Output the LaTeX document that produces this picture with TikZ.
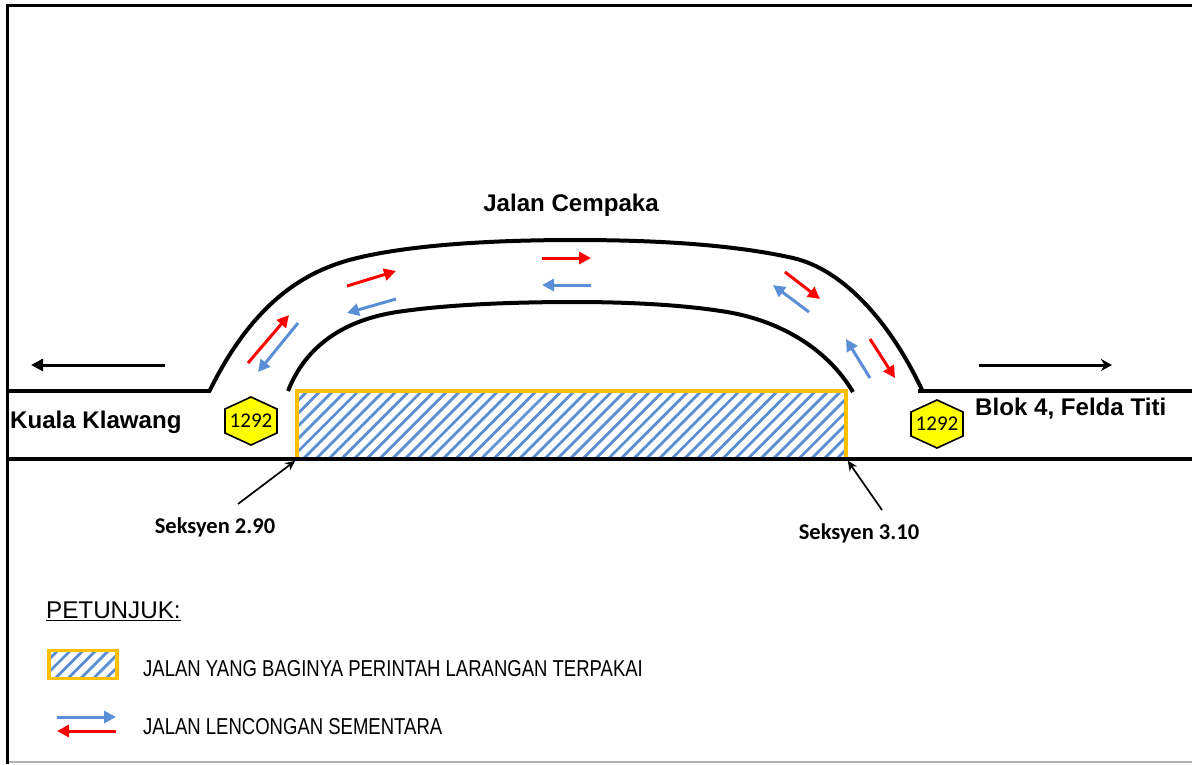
\documentclass[tikz,border=0pt]{standalone}
\usepackage{fontspec}
\usepackage{graphicx}
\setmainfont{Liberation Sans}
\newfontfamily\carlitofont{Carlito}
\usetikzlibrary{arrows.meta,calc}
\definecolor{roadblue}{HTML}{5B8FD5}
\definecolor{zoneorange}{HTML}{FFC000}
\definecolor{signyellow}{HTML}{FFFF00}
\definecolor{arrowred}{HTML}{FF0000}
\newcommand{\hexsign}[3]{%
  \fill[signyellow,draw=black,line width=1.6pt,shift={(#2,#3)}]
    (0,-24)--(26,-12)--(26,12)--(0,24)--(-26,12)--(-26,-12)--cycle;
  \node[signtext] (#1) at (#2,#3) {1292};}
\tikzset{
  road/.style={line width=4pt,black},
  frameline/.style={line width=3pt,black},
  redarrow/.style={line width=3pt,arrowred,-{Triangle[length=12pt,width=12pt]}},
  bluearrow/.style={line width=3pt,roadblue,-{Triangle[length=12pt,width=12pt]}},
  dirarrow/.style={line width=3pt,black,-{Triangle[length=12pt,width=12pt]}},
  dirarrowb/.style={line width=3pt,black,-{Stealth[length=11pt,width=12pt]}},
  secarrow/.style={line width=1.7pt,black,-{Stealth[length=10pt,width=9pt]}},
  signtext/.style={font=\carlitofont\fontsize{21}{21}\selectfont,inner sep=0pt,text=black},
  roadname/.style={font=\bfseries\fontsize{24.1}{25}\selectfont,inner sep=0pt,text=black},
  seclabel/.style={font=\carlitofont\bfseries\fontsize{22.5}{23}\selectfont,inner sep=0pt,text=black},
  legendtext/.style={font=\fontsize{23}{24}\selectfont,inner sep=0pt,anchor=west,text=black},
  hatched/.style={rectangle,inner sep=0pt,draw=zoneorange,line width=3.5pt,
    path picture={
      \foreach \i in {-70,-57.3,...,620}{
        \draw[roadblue,line width=2.8pt]
          ($(path picture bounding box.south west)+(\i,0)$) -- ++(80,-80);}
    }},
}
\begin{document}
\begin{tikzpicture}[x=1pt,y=-1pt]
\useasboundingbox (0,0) rectangle (1192,764);
% frame
\coordinate (ftl) at (7,5); \coordinate (ftr) at (1192,5);
\coordinate (fbl) at (7,764); \coordinate (fbr) at (1192,762);
\draw[frameline] (ftr) -- (ftl) -- (fbl);
\draw[line width=2pt,black!30] (8.5,762) -- (fbr);
% road ends
\coordinate (la) at (7,391); \coordinate (lb) at (210,391);
\coordinate (lc) at (7,459); \coordinate (ld) at (1192,459);
\coordinate (ra) at (918,391); \coordinate (rb) at (1192,391);
\coordinate (oa) at (209,392); \coordinate (ob) at (357,258); \coordinate (oc) at (575,240);
\coordinate (od) at (793,258); \coordinate (oe) at (923,392);
\coordinate (ia) at (288,391); \coordinate (ib) at (397,312); \coordinate (ic) at (575,302);
\coordinate (id) at (727,312); \coordinate (ie) at (853,392);
% zone
\node[hatched,minimum width=549pt,minimum height=68pt] (zone) at (571.5,425) {};
\draw[road] (la) -- (lb);
\draw[road] (lc) -- (ld);
\draw[road] (ra) -- (rb);
\draw[road] (oa) .. controls (254,300) and (307,270) .. (ob)
  .. controls (415,244) and (500,240) .. (oc)
  .. controls (660,240) and (735,245) .. (od)
  .. controls (845,270) and (892,325) .. (oe);
\draw[road] (ia) .. controls (306,345) and (345,320) .. (ib)
  .. controls (450,304) and (520,302) .. (ic)
  .. controls (630,302) and (685,305) .. (id)
  .. controls (775,320) and (825,345) .. (ie);
% signs
\hexsign{hl}{251}{421}
\hexsign{hr}{937}{424}
% direction arrows
\coordinate (d1a) at (165,365); \coordinate (d1b) at (31,365);
\coordinate (d2a) at (979,365); \coordinate (d2b) at (1112,365);
\draw[dirarrow] (d1a) -- (d1b);
\draw[dirarrowb] (d2a) -- (d2b);
% traffic arrows
\coordinate (r1a) at (248,363); \coordinate (r1b) at (289,315);
\coordinate (b1a) at (298,323); \coordinate (b1b) at (258,372);
\coordinate (r2a) at (347,286); \coordinate (r2b) at (396,271);
\coordinate (b2a) at (396,299); \coordinate (b2b) at (347,313);
\coordinate (r3a) at (542,258); \coordinate (r3b) at (591,258);
\coordinate (b3a) at (591,285); \coordinate (b3b) at (542,285);
\coordinate (r4a) at (785,272); \coordinate (r4b) at (820,299);
\coordinate (b4a) at (809,312); \coordinate (b4b) at (773,285);
\coordinate (r5a) at (870,339); \coordinate (r5b) at (895,378);
\coordinate (b5a) at (870,378); \coordinate (b5b) at (846,339);
\foreach \n in {1,...,5}{
  \draw[redarrow] (r\n a) -- (r\n b);
  \draw[bluearrow] (b\n a) -- (b\n b);
}
% labels
\node[roadname] (cempaka) at (571,205) {Jalan Cempaka};
\node[roadname,anchor=west] (kuala) at (10,422) {Kuala Klawang};
\node[roadname,anchor=west] (blok) at (975,409) {Blok 4, Felda Titi};
\node[seclabel] (s1) at (215,527) {Seksyen 2.90};
\node[seclabel] (s2) at (859,533) {Seksyen 3.10};
\coordinate (s1t) at (238,504); \coordinate (s2t) at (882,510);
\draw[secarrow] (s1t) -- (zone.south west);
\draw[secarrow] (s2t) -- (zone.south east);
% legend
\node[legendtext,font=\fontsize{24.2}{25}\selectfont] (pet) at (46,611) {\underline{PETUNJUK:}};
\node[hatched,minimum width=68pt,minimum height=28pt] (lbox) at (83,664.5) {};
\coordinate (lb1) at (57,717); \coordinate (lb2) at (116,717);
\coordinate (lr1) at (116,731); \coordinate (lr2) at (57,731);
\draw[bluearrow] (lb1) -- (lb2);
\draw[redarrow] (lr1) -- (lr2);
\node[legendtext] (lt1) at (143,669) {\scalebox{0.805}[1]{JALAN YANG BAGINYA PERINTAH LARANGAN TERPAKAI}};
\node[legendtext] (lt2) at (143,727) {\scalebox{0.805}[1]{JALAN LENCONGAN SEMENTARA}};
\end{tikzpicture}
\end{document}
